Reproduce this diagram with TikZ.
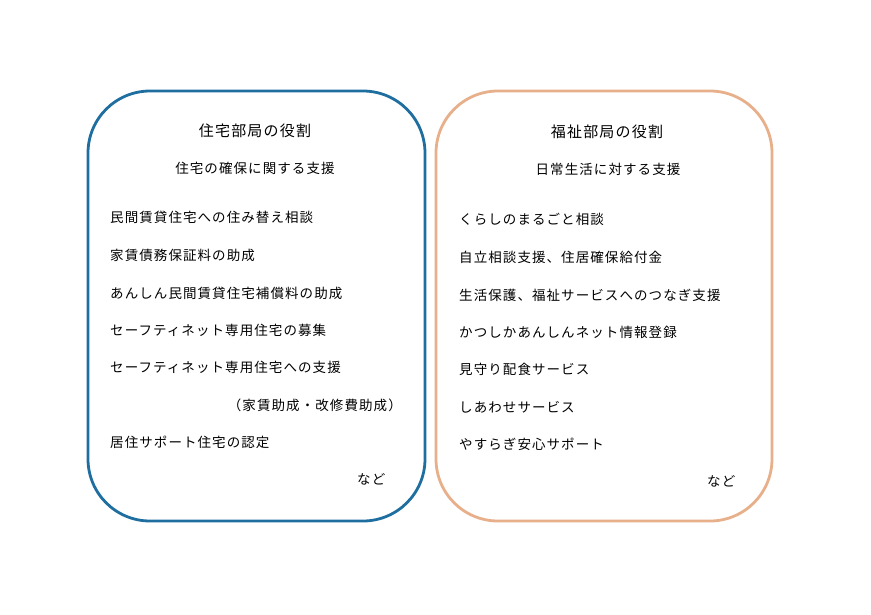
\documentclass[tikz,border=0pt]{standalone}
\usepackage{fontspec}
\setmainfont[LetterSpace=8]{Noto Sans CJK JP}
\definecolor{bluebox}{RGB}{30,110,160}
\definecolor{orangebox}{RGB}{232,176,138}
\begin{document}
\begin{tikzpicture}[x=1pt,y=-1pt,
  panel/.style={draw,line width=2.8pt,rounded corners=62pt},
  ttl/.style={font=\fontsize{15}{17}\selectfont,inner sep=0pt},
  sub/.style={font=\fontsize{13.5}{16}\selectfont,inner sep=0pt},
  item/.style={font=\fontsize{13.5}{16}\selectfont,inner sep=0pt,anchor=west}]
\useasboundingbox (0,0) rectangle (871,614);
\fill[white] (0,0) rectangle (871,614);
\draw[panel,bluebox] (88,91) rectangle (425,521);
\draw[panel,orangebox] (436,91) rectangle (772,521);
% left
\node[ttl] (lt) at (255,131) {住宅部局の役割};
\node[sub] (ls) at (255,168) {住宅の確保に関する支援};
\node[item] (l1) at (110,217) {民間賃貸住宅への住み替え相談};
\node[item] (l2) at (110,255) {家賃債務保証料の助成};
\node[item] (l3) at (110,293) {あんしん民間賃貸住宅補償料の助成};
\node[item] (l4) at (110,330) {セーフティネット専用住宅の募集};
\node[item] (l5) at (110,367) {セーフティネット専用住宅への支援};
\node[item,anchor=east] (l6) at (402,405) {（家賃助成・改修費助成）};
\node[item] (l7) at (110,442) {居住サポート住宅の認定};
\node[item] (l8) at (357,479) {など};
% right
\node[ttl] (rt) at (607,132) {福祉部局の役割};
\node[sub] (rs) at (608,169) {日常生活に対する支援};
\node[item] (r1) at (459,219) {くらしのまるごと相談};
\node[item] (r2) at (459,257) {自立相談支援、住居確保給付金};
\node[item] (r3) at (459,295) {生活保護、福祉サービスへのつなぎ支援};
\node[item] (r4) at (459,332) {かつしかあんしんネット情報登録};
\node[item] (r5) at (459,369) {見守り配食サービス};
\node[item] (r6) at (459,407) {しあわせサービス};
\node[item] (r7) at (459,444) {やすらぎ安心サポート};
\node[item] (r8) at (707,481) {など};
\end{tikzpicture}
\end{document}
